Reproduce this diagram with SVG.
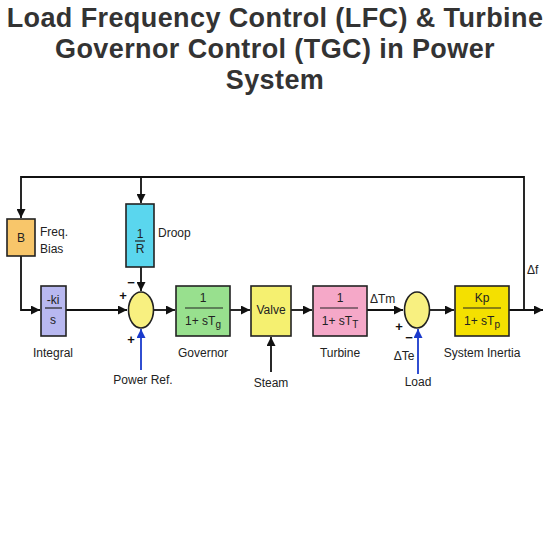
<svg xmlns="http://www.w3.org/2000/svg" width="551" height="550" viewBox="0 0 551 550">
<defs>
<marker id="ah" viewBox="0 0 10 10" refX="10" refY="5" markerWidth="9" markerHeight="9" markerUnits="userSpaceOnUse" orient="auto"><path d="M0,0 L10,5 L0,10 z" fill="#111"/></marker>
<marker id="ahb" viewBox="0 0 10 10" refX="10" refY="5" markerWidth="9" markerHeight="9" markerUnits="userSpaceOnUse" orient="auto"><path d="M0,0 L10,5 L0,10 z" fill="#1a3acc"/></marker>
</defs>
<style>
.title{font-family:"Liberation Sans",Arial,sans-serif;font-weight:bold;font-size:27px;letter-spacing:0.4px;fill:#333;text-anchor:middle}
.lbl{font-family:"Liberation Sans",Arial,sans-serif;font-size:12px;fill:#222}
.c{text-anchor:middle}
.box{stroke:#222;stroke-width:1.6}
.ln{stroke:#111;stroke-width:1.8;fill:none}
.blue{stroke:#1a3acc;stroke-width:1.8;fill:none}
.frac{stroke:#222;stroke-width:1.2}
.sign{font-family:"Liberation Sans",Arial,sans-serif;font-size:13px;font-weight:bold;fill:#111;text-anchor:middle}
</style>
<rect width="551" height="550" fill="#fff"/>
<g id="title">
<text class="title" x="275" y="27">Load Frequency Control (LFC) &amp; Turbine</text>
<text class="title" x="275" y="58">Governor Control (TGC) in Power</text>
<text class="title" x="275" y="89">System</text>
</g>
<g id="connectors">
<path class="ln" d="M524,310 V177 H21 V218" marker-end="url(#ah)"/>
<path class="ln" d="M141,177 V203" marker-end="url(#ah)"/>
<path class="ln" d="M21,256 V310 H40" marker-end="url(#ah)"/>
<path class="ln" d="M66,310 H127" marker-end="url(#ah)"/>
<path class="ln" d="M141,267 V291" marker-end="url(#ah)"/>
<path class="ln" d="M154,310 H175" marker-end="url(#ah)"/>
<path class="ln" d="M230,310 H250" marker-end="url(#ah)"/>
<path class="ln" d="M291,310 H312" marker-end="url(#ah)"/>
<path class="ln" d="M271,372 V337" marker-end="url(#ah)"/>
<path class="ln" d="M367,310 H403" marker-end="url(#ah)"/>
<path class="ln" d="M430,310 H454" marker-end="url(#ah)"/>
<path class="ln" d="M509,310 H543" marker-end="url(#ah)"/>
<path class="blue" d="M141,370 V329" marker-end="url(#ahb)"/>
<path class="blue" d="M418,374 V329" marker-end="url(#ahb)"/>
</g>
<g id="bias">
<rect class="box" x="7" y="219" width="28" height="37" fill="#f8c66a"/>
<text class="lbl c" x="21" y="242">B</text>
<text class="lbl" x="40" y="236">Freq.</text>
<text class="lbl" x="40" y="253">Bias</text>
</g>
<g id="droop">
<rect class="box" x="126" y="204" width="28" height="63" fill="#5ad6ee"/>
<text class="lbl c" x="140" y="238">1</text>
<line class="frac" x1="135" y1="241" x2="145" y2="241"/>
<text class="lbl c" x="140" y="253">R</text>
<text class="lbl" x="158" y="237">Droop</text>
</g>
<g id="integral">
<rect class="box" x="41" y="286" width="25" height="50" fill="#b8b8f0"/>
<text class="lbl c" x="53" y="304">-ki</text>
<line class="frac" x1="45" y1="308" x2="62" y2="308"/>
<text class="lbl c" x="53" y="324">s</text>
<text class="lbl c" x="53" y="357">Integral</text>
</g>
<g id="sum1">
<ellipse class="box" cx="141" cy="310" rx="12.5" ry="18" fill="#f8f080"/>
<text class="sign" x="131" y="287">−</text>
<text class="sign" x="123" y="300">+</text>
<text class="sign" x="131" y="344">+</text>
<text class="lbl c" x="143" y="384">Power Ref.</text>
</g>
<g id="governor">
<rect class="box" x="176" y="286" width="54" height="50" fill="#98e08e"/>
<text class="lbl c" x="203" y="302">1</text>
<line class="frac" x1="185" y1="308" x2="223" y2="308"/>
<text class="lbl c" x="203" y="325">1+ sT<tspan font-size="10" dy="3">g</tspan></text>
<text class="lbl c" x="203" y="357">Governor</text>
</g>
<g id="valve">
<rect class="box" x="251" y="286" width="40" height="50" fill="#f5f070"/>
<text class="lbl c" x="271" y="314">Valve</text>
<text class="lbl c" x="271" y="387">Steam</text>
</g>
<g id="turbine">
<rect class="box" x="313" y="286" width="54" height="50" fill="#f5a8c8"/>
<text class="lbl c" x="340" y="302">1</text>
<line class="frac" x1="320" y1="308" x2="358" y2="308"/>
<text class="lbl c" x="340" y="325">1+ sT<tspan font-size="10" dy="3">T</tspan></text>
<text class="lbl c" x="340" y="357">Turbine</text>
<text class="lbl" x="370" y="303">ΔTm</text>
</g>
<g id="sum2">
<ellipse class="box" cx="417" cy="310" rx="12.5" ry="18" fill="#f8f080"/>
<text class="sign" x="399" y="331">+</text>
<text class="sign" x="409" y="342">−</text>
<text class="lbl c" x="404" y="360">ΔTe</text>
<text class="lbl c" x="418" y="386">Load</text>
</g>
<g id="inertia">
<rect class="box" x="455" y="286" width="54" height="50" fill="#f4e000"/>
<text class="lbl c" x="482" y="302">Kp</text>
<line class="frac" x1="463" y1="308" x2="501" y2="308"/>
<text class="lbl c" x="482" y="325">1+ sT<tspan font-size="10" dy="3">p</tspan></text>
<text class="lbl c" x="482" y="357">System Inertia</text>
<text class="lbl" x="527" y="274">Δf</text>
</g>
</svg>
